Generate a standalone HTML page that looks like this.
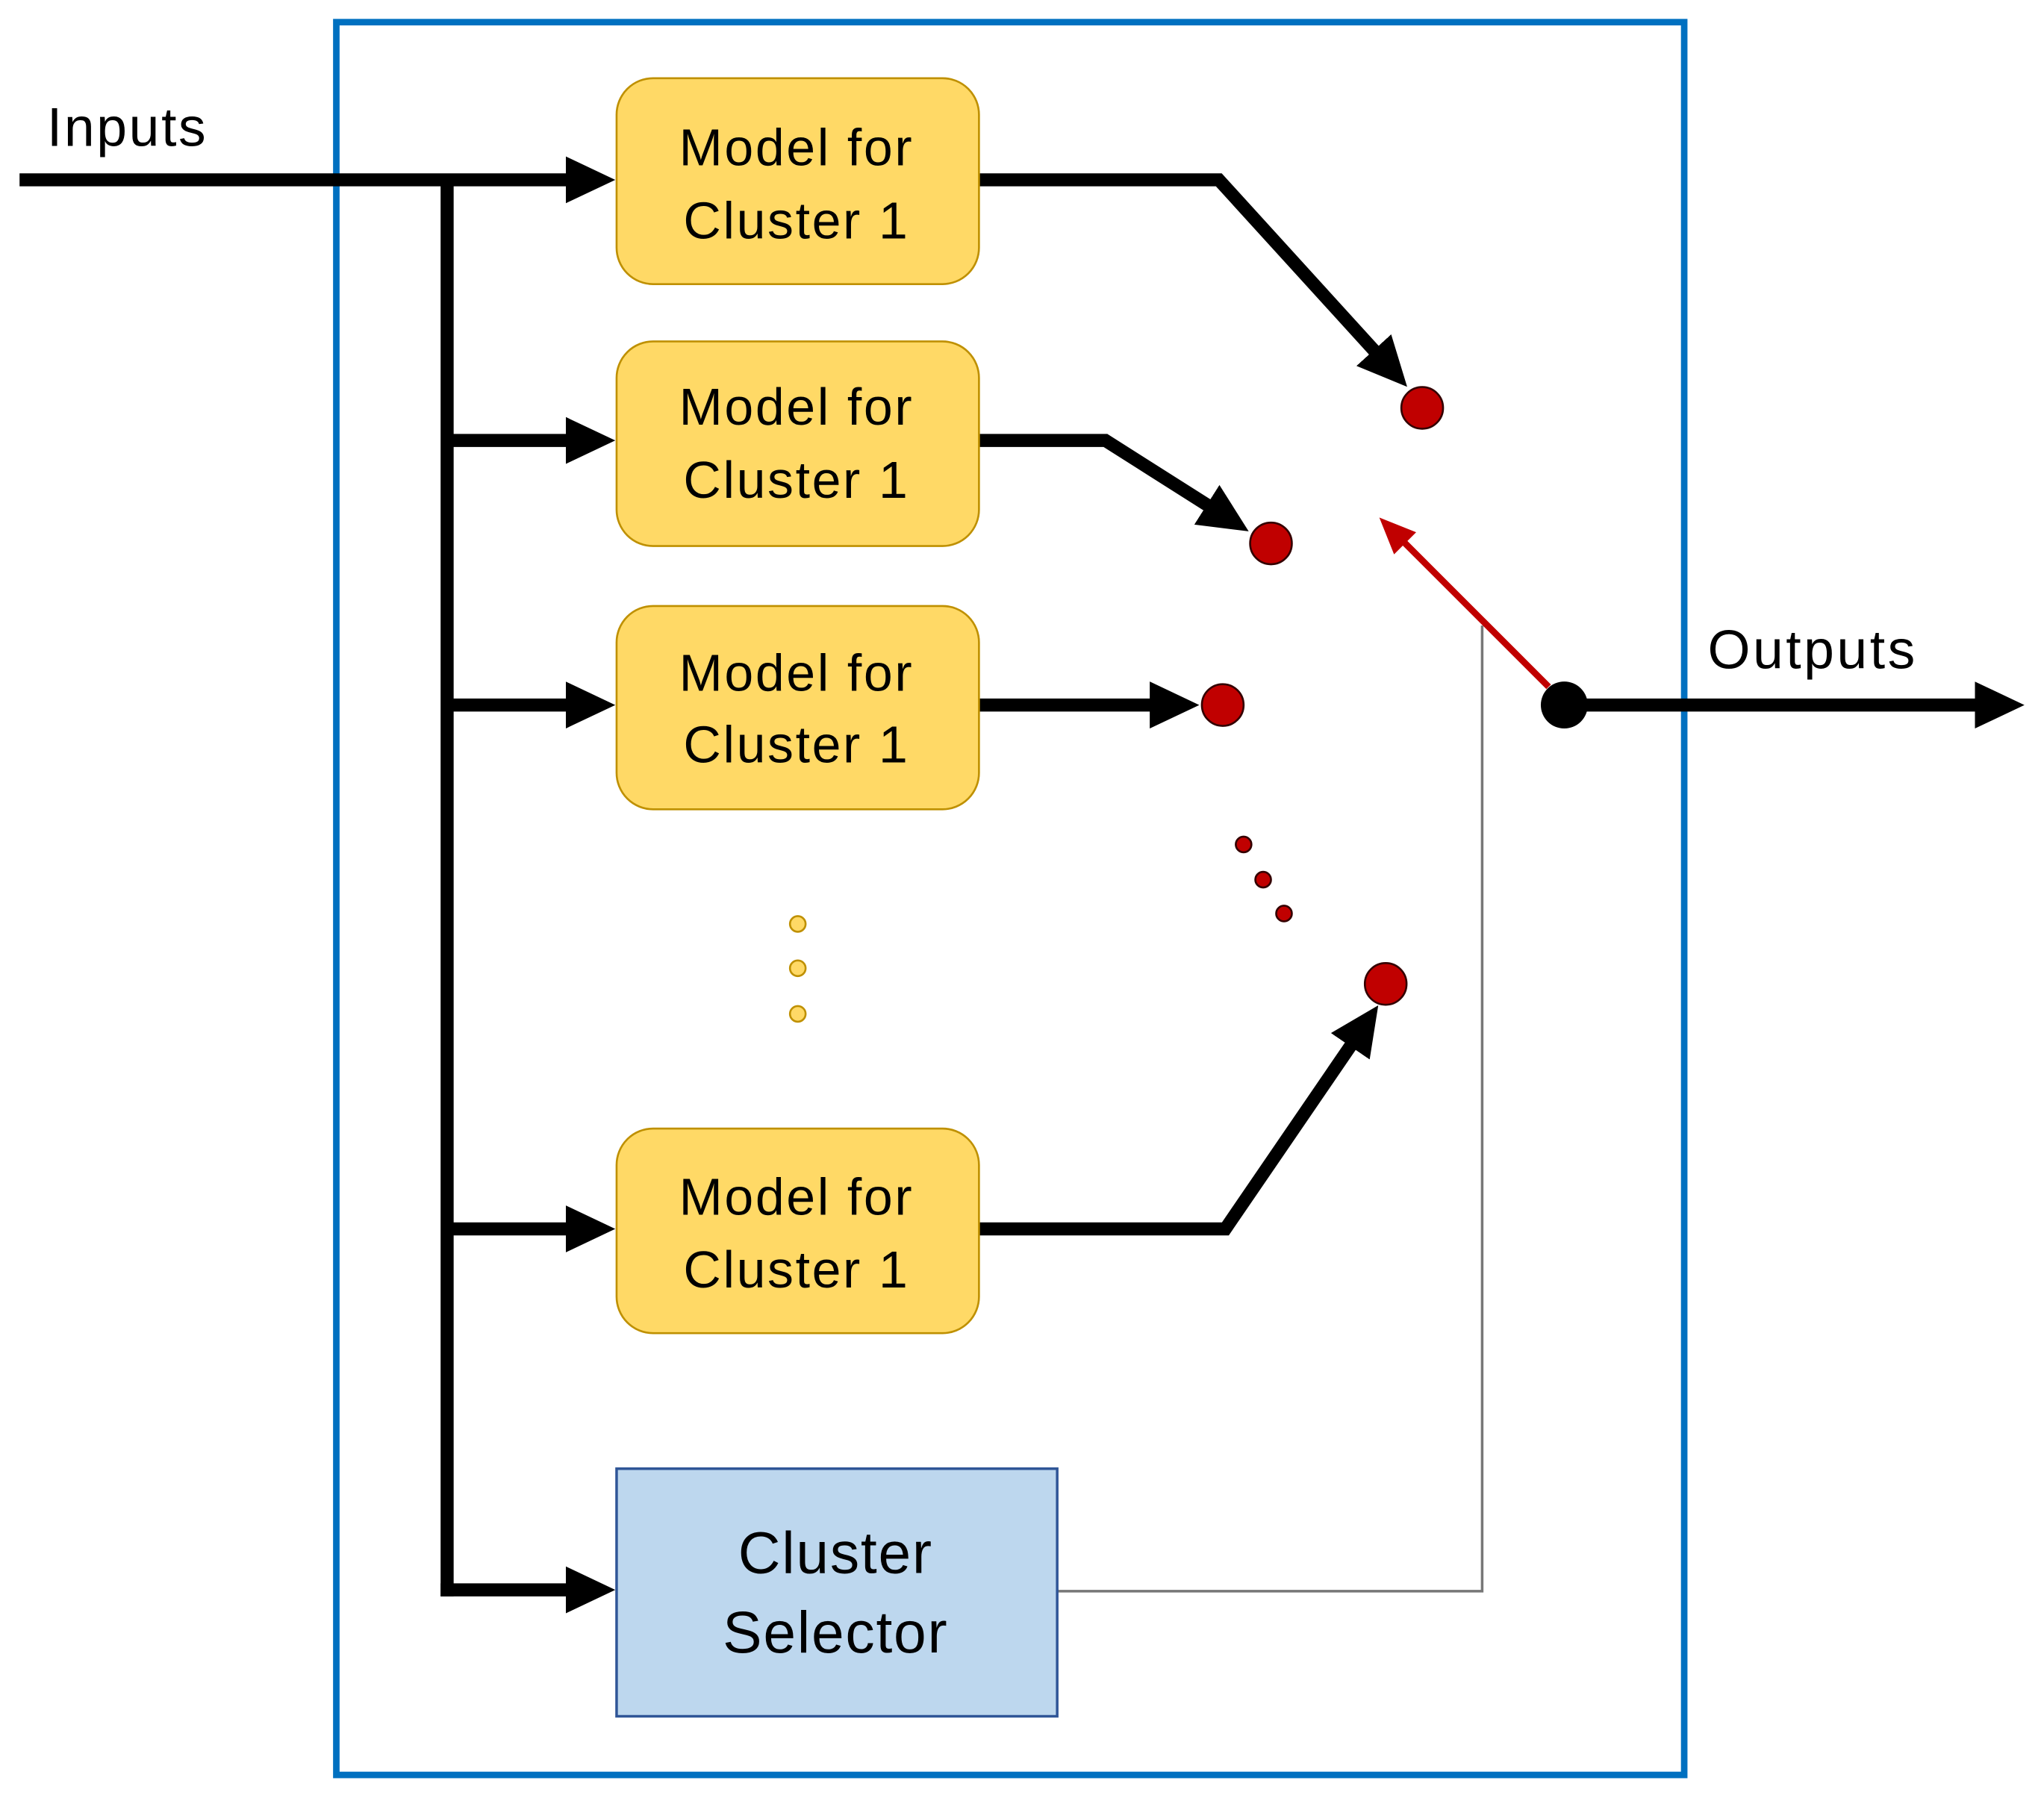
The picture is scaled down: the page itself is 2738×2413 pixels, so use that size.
<!DOCTYPE html>
<html><head><meta charset="utf-8"><style>html,body{margin:0;padding:0;background:#fff}svg{display:block}</style></head>
<body>
<svg width="2738" height="2413" viewBox="0 0 1568 1382" preserveAspectRatio="none" xmlns="http://www.w3.org/2000/svg" font-family="Liberation Sans, sans-serif">
<defs>
<marker id="a" markerUnits="userSpaceOnUse" markerWidth="40" markerHeight="36" refX="18" refY="18" orient="auto"><path d="M0,0 L38,18 L0,36 z" fill="#000"/></marker>
<marker id="r" markerUnits="userSpaceOnUse" markerWidth="30" markerHeight="24" refX="14" refY="12" orient="auto"><path d="M0,0 L28,12 L0,24 z" fill="#c00000"/></marker>
</defs>
<rect x="258" y="17" width="1034" height="1345" fill="none" stroke="#0070c0" stroke-width="5"/>
<text x="36" y="112" font-size="42" letter-spacing="1.5">Inputs</text>
<text x="1310" y="513" font-size="42" letter-spacing="2">Outputs</text>
<g stroke="#000" stroke-width="10" fill="none">
<line x1="15" y1="138" x2="452" y2="138" marker-end="url(#a)"/>
<line x1="343" y1="138" x2="343" y2="1225"/>
<line x1="343" y1="338" x2="452" y2="338" marker-end="url(#a)"/>
<line x1="343" y1="541" x2="452" y2="541" marker-end="url(#a)"/>
<line x1="343" y1="943" x2="452" y2="943" marker-end="url(#a)"/>
<line x1="338" y1="1220" x2="452" y2="1220" marker-end="url(#a)"/>
<polyline points="751,138 935,138 1066,282" marker-end="url(#a)"/>
<polyline points="751,338 848,338 941,397" marker-end="url(#a)"/>
<line x1="751" y1="541" x2="900" y2="541" marker-end="url(#a)"/>
<polyline points="751,943 940,943 1046,788" marker-end="url(#a)"/>
<line x1="1200" y1="541" x2="1533" y2="541" marker-end="url(#a)"/>
</g>
<polyline points="811,1221 1137,1221 1137,480" fill="none" stroke="#777" stroke-width="2"/>
<line x1="1188" y1="527" x2="1068" y2="407" stroke="#c00000" stroke-width="5" marker-end="url(#r)"/>
<g fill="#ffd966" stroke="#bf9000" stroke-width="1.5">
<rect x="473" y="60" width="278" height="158" rx="28"/>
<rect x="473" y="262" width="278" height="157" rx="28"/>
<rect x="473" y="465" width="278" height="156" rx="28"/>
<rect x="473" y="866" width="278" height="157" rx="28"/>
<circle cx="612" cy="709" r="6"/><circle cx="612" cy="743" r="6"/><circle cx="612" cy="778" r="6"/>
</g>
<rect x="473" y="1127" width="338" height="190" fill="#bdd7ee" stroke="#2f5597" stroke-width="2"/>
<g font-size="40" text-anchor="middle" fill="#000" letter-spacing="1.5">
<text x="611" y="127">Model for</text><text x="611" y="183">Cluster 1</text>
<text x="611" y="326">Model for</text><text x="611" y="382">Cluster 1</text>
<text x="611" y="530">Model for</text><text x="611" y="585">Cluster 1</text>
<text x="611" y="932">Model for</text><text x="611" y="988">Cluster 1</text>
<text x="641" y="1207" font-size="45" letter-spacing="1">Cluster</text><text x="641" y="1268" font-size="45" letter-spacing="1">Selector</text>
</g>
<g fill="#c00000" stroke="#300" stroke-width="1.5">
<circle cx="1091" cy="313" r="16"/><circle cx="975" cy="417" r="16"/><circle cx="938" cy="541" r="16"/><circle cx="1063" cy="755" r="16"/>
<circle cx="954" cy="648" r="6"/><circle cx="969" cy="675" r="6"/><circle cx="985" cy="701" r="6"/>
</g>
<circle cx="1200" cy="541" r="18" fill="#000"/>
</svg>
</body></html>
